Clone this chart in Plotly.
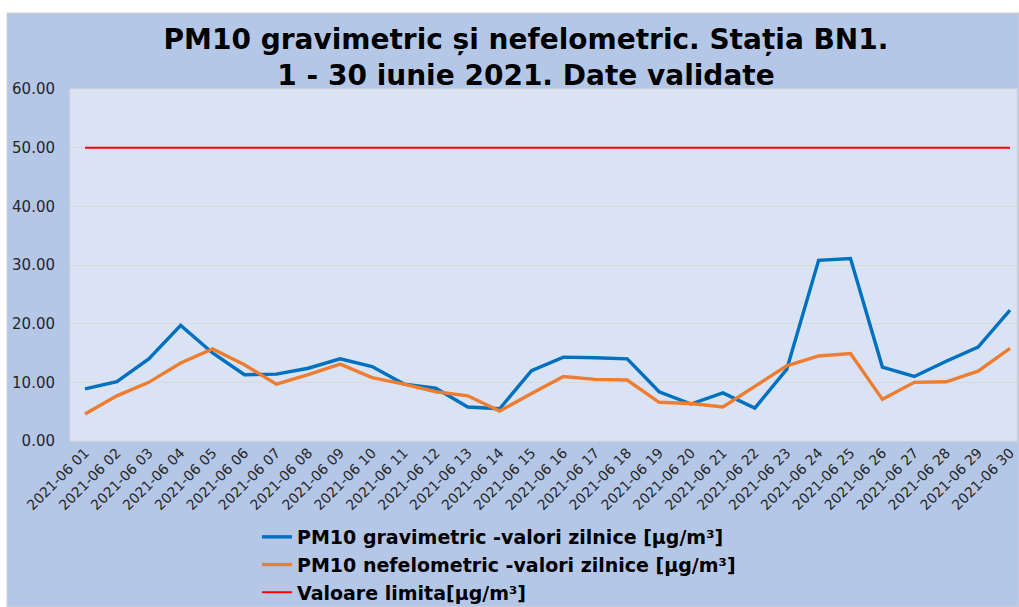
import plotly.graph_objects as go

days = [f"2021-06 {d:02d}" for d in range(1, 31)]
gravimetric = [8.9, 10.1, 14.0, 19.7, 15.0, 11.3, 11.4, 12.4, 14.0, 12.7,
               9.7, 9.0, 5.8, 5.5, 12.0, 14.3, 14.2, 14.0, 8.4, 6.3,
               8.2, 5.6, 12.2, 30.8, 31.1, 12.6, 11.0, 13.6, 16.0, 22.3]
nefelometric = [4.6, 7.7, 10.0, 13.3, 15.7, 13.0, 9.7, 11.3, 13.1, 10.8,
                9.7, 8.4, 7.7, 5.1, 8.1, 11.0, 10.5, 10.4, 6.6, 6.4,
                5.8, 9.3, 12.8, 14.5, 14.9, 7.1, 10.0, 10.1, 11.9, 15.8]
limit_value = [50.0] * 30
y_ticks = [0, 10, 20, 30, 40, 50, 60]
y_tick_labels = ["0.00", "10.00", "20.00", "30.00", "40.00", "50.00", "60.00"]

names = ["PM10 gravimetric -valori zilnice [µg/m³]",
         "PM10 nefelometric -valori zilnice [µg/m³]",
         "Valoare limita[µg/m³]"]

FONT = "DejaVu Sans, Liberation Sans, Arial"

fig = go.Figure()
fig.add_trace(go.Scatter(x=days, y=gravimetric, mode="lines", name=f"<b>{names[0]}</b>",
                         line=dict(color="#0070C0", width=3.4)))
fig.add_trace(go.Scatter(x=days, y=nefelometric, mode="lines", name=f"<b>{names[1]}</b>",
                         line=dict(color="#ED7D31", width=3.4)))
fig.add_trace(go.Scatter(x=days, y=limit_value, mode="lines", name=f"<b>{names[2]}</b>",
                         line=dict(color="#FF0000", width=2)))

W, H = 1019, 607
L, R, T, B = 70, 1017, 89, 441
pw, ph = R - L, B - T

def px_x(p):
    return (p - L) / pw

def px_y(p):
    return (B - p) / ph

fig.update_layout(
    width=W, height=H,
    margin=dict(l=L, r=W - R, t=T, b=H - B, autoexpand=False),
    paper_bgcolor="white",
    plot_bgcolor="rgba(0,0,0,0)",
    font=dict(family=FONT, color="#000000"),
    title=dict(
        text="<b>PM10 gravimetric și nefelometric. Stația BN1.<br>1 - 30 iunie 2021. Date validate</b>",
        x=526 / W, xanchor="center", y=1 - 49 / H, yanchor="middle",
        font=dict(size=28, color="#000000", family=FONT),
    ),
    shapes=[
        dict(type="rect", xref="paper", yref="paper",
             x0=px_x(7), x1=px_x(1019), y0=px_y(607), y1=px_y(13),
             fillcolor="#B4C7E7", line=dict(color="#D0D0D0", width=1), layer="below"),
        dict(type="rect", xref="paper", yref="paper",
             x0=0, x1=1, y0=0, y1=1,
             fillcolor="#DAE3F3", line=dict(color="#D9D9D9", width=1), layer="below"),
    ],
    xaxis=dict(
        type="category", range=[-0.47, 29.22], tickangle=-45,
        showgrid=False, ticks="", showline=False, zeroline=False,
        tickfont=dict(size=14, color="#262626", family=FONT),
    ),
    yaxis=dict(
        range=[0, 60], tickvals=y_ticks, ticktext=y_tick_labels,
        showgrid=True, gridcolor="#D9D9D9", gridwidth=1, zeroline=False,
        ticks="", showline=False, ticklabelstandoff=14,
        tickfont=dict(size=15, color="#262626", family=FONT),
    ),
    showlegend=True,
    legend=dict(
        x=px_x(257), xanchor="left", y=px_y(518), yanchor="top",
        bgcolor="rgba(0,0,0,0)", font=dict(size=19, color="#000000", family=FONT),
        tracegroupgap=0,
    ),
)

fig.write_html(
    "out.html",
    config={"displayModeBar": False},
    post_script="document.body.style.margin='0';document.body.style.overflow='hidden';",
)
